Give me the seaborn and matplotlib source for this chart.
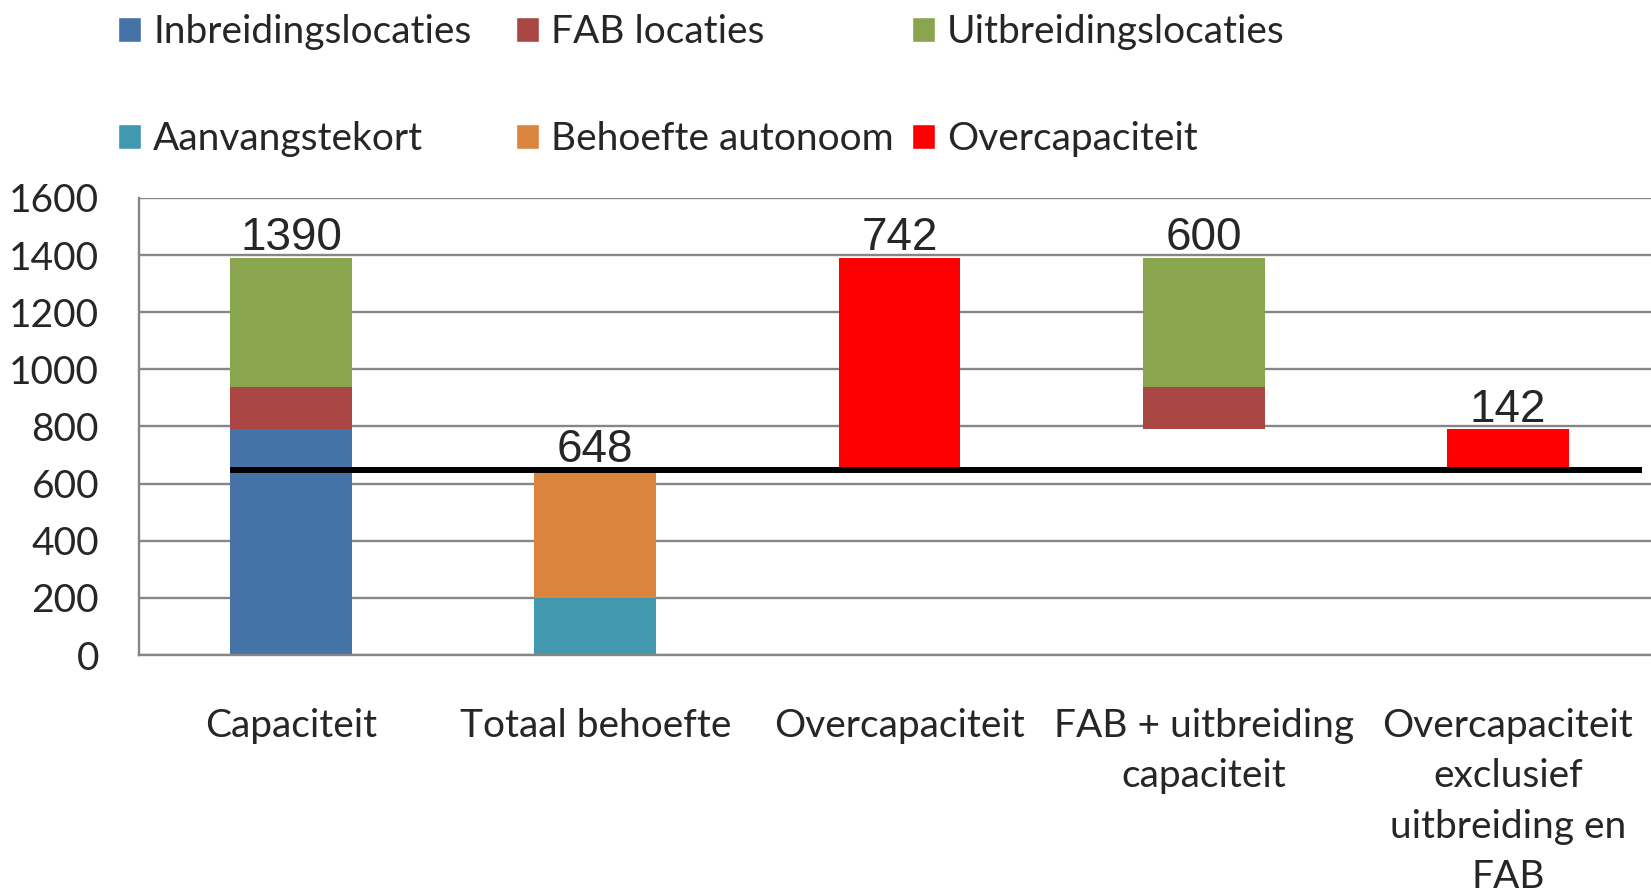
import matplotlib
matplotlib.use("Agg")
import matplotlib.pyplot as plt
from matplotlib.patches import Patch
import seaborn as sns

# categories on the x axis
categories = [
    "Capaciteit",
    "Totaal behoefte",
    "Overcapaciteit",
    "FAB + uitbreiding\ncapaciteit",
    "Overcapaciteit\nexclusief\nuitbreiding en\nFAB",
]

# segment heights per series
inbreiding = [790, 0, 0, 0, 0]
fab = [150, 0, 0, 150, 0]
uitbreiding = [450, 0, 0, 450, 0]
aanvangstekort = [0, 200, 0, 0, 0]
behoefte_autonoom = [0, 448, 0, 0, 0]
overcapaciteit = [0, 0, 742, 0, 142]

# where each segment starts (floating bars)
inbreiding_base = [0, 0, 0, 0, 0]
fab_base = [790, 0, 0, 790, 0]
uitbreiding_base = [940, 0, 0, 940, 0]
aanvangstekort_base = [0, 0, 0, 0, 0]
behoefte_base = [0, 200, 0, 0, 0]
overcapaciteit_base = [0, 0, 648, 0, 648]

totals = [1390, 648, 742, 600, 142]
total_need = 648

series = [
    ("Inbreidingslocaties", inbreiding, inbreiding_base, "#4572A7"),
    ("FAB locaties", fab, fab_base, "#AA4643"),
    ("Uitbreidingslocaties", uitbreiding, uitbreiding_base, "#89A54E"),
    ("Aanvangstekort", aanvangstekort, aanvangstekort_base, "#4198AF"),
    ("Behoefte autonoom", behoefte_autonoom, behoefte_base, "#DB843D"),
    ("Overcapaciteit", overcapaciteit, overcapaciteit_base, "#FF0000"),
]

sns.set_style("white")
plt.rcParams["font.family"] = ["Lato", "DejaVu Sans"]
grey = "#868686"
bar_w = 0.4

fig = plt.figure(figsize=(16.51, 8.93), dpi=100)
ax = fig.add_axes([0.0842, 0.2665, 0.9213, 0.5118])

for name, heights, base, col in series:
    sns.barplot(x=categories, y=heights, bottom=base, color=col, width=bar_w,
                saturation=1, linewidth=0, ax=ax)

# value labels on top of each stack
for i, t in enumerate(totals):
    top = max(b + h for _, hs, bs, _ in series for h, b in [(hs[i], bs[i])] if h > 0)
    ax.annotate(str(t), xy=(i, top), xytext=(0, 5.5), textcoords="offset points",
                ha="center", va="baseline", fontsize=33, family="Liberation Sans")

# total demand line
ax.hlines(total_need, -bar_w / 2, len(categories) - 0.56, color="black", lw=4.3, zorder=4)

ax.set_ylim(0, 1600)
ax.set_xlim(-0.5, len(categories) - 0.5)
ax.set_yticks(range(0, 1601, 200))
ax.yaxis.grid(True, color=grey, lw=1.7)
ax.set_axisbelow(True)
ax.set_xlabel("")
ax.set_ylabel("")

ax.set_xticks([i - 0.5 for i in range(len(categories))])
ax.set_xticklabels([])
ax.set_xticks(range(len(categories)), minor=True)
ax.set_xticklabels(categories, minor=True, fontsize=28, linespacing=1.5)
ax.tick_params(axis="x", which="major", length=9.5, width=1.5, color=grey)
ax.tick_params(axis="x", which="minor", length=0, pad=38)
ax.tick_params(axis="y", length=10.8, width=1.5, color=grey, pad=18, labelsize=28)

sns.despine(ax=ax)
for s in ["left", "bottom"]:
    ax.spines[s].set_color(grey)
    ax.spines[s].set_linewidth(1.7)

# legend: three columns of two entries
handles = [Patch(facecolor=c, label=n) for n, _, _, c in series]
col_x = [118 / 1651, 516 / 1651, 912 / 1651]
for k in range(3):
    fig.legend(handles=[handles[k], handles[k + 3]], loc="upper left",
               bbox_to_anchor=(col_x[k], 0.984), frameon=False, fontsize=28,
               handlelength=0.6, handleheight=0.6, handletextpad=0.3,
               labelspacing=1.82, borderpad=0, borderaxespad=0)

fig.savefig("out.png", dpi=100)
